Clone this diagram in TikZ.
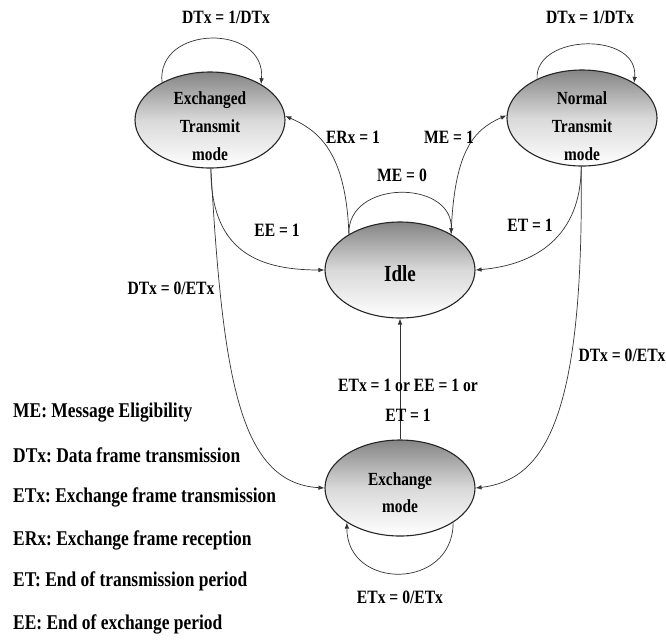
\documentclass[tikz,border=0pt]{standalone}
\usepackage{fontspec}
\setmainfont{Liberation Serif}[FakeStretch=0.83]
\usetikzlibrary{shapes.geometric,arrows.meta}
\frenchspacing
\begin{document}
\begin{tikzpicture}[x=1pt,y=-1pt,
  state/.style={ellipse,draw=black!85,line width=1.1pt,minimum width=150pt,minimum height=96pt,inner sep=0pt,top color=black!48,bottom color=white,middle color=black!15},
  stxt/.style={align=center,inner sep=0pt,font=\fontsize{18.5}{28}\selectfont\bfseries},
  lbl/.style={font=\fontsize{18.8}{30}\selectfont\bfseries,inner sep=0pt,align=center},
  leg/.style={font=\fontsize{21}{24}\selectfont\bfseries,anchor=west,inner sep=0pt},
  conn/.style={draw=black!80,line width=0.7pt,-{Latex[length=6pt,width=4.5pt]}}
]
\fill[white] (0,0) rectangle (666,641);
\useasboundingbox (0,0) rectangle (666,641);

% states
\node[state] (A) at (210,120) {};
\node[state] (B) at (582,118) {};
\node[state] (I) at (400,270) {};
\node[state] (X) at (400,488) {};

\node[stxt] (At) at ([yshift=-6pt]A.center) {Exchanged\\Transmit\\mode};
\node[stxt] (Bt) at ([yshift=-8pt]B.center) {Normal\\Transmit\\mode};
\node[stxt,font=\fontsize{23}{28}\selectfont\bfseries] (It) at ([yshift=-4pt]I.center) {Idle};
\node[stxt,font=\fontsize{18.5}{27}\selectfont\bfseries] (Xt) at ([yshift=-5pt]X.center) {Exchange\\mode};

% self loops
\draw[conn] (A.142) .. controls +(-6,-58) and +(5,-61) .. (A.35);
\draw[conn] (B.139) .. controls +(-3,-45) and +(5,-52) .. (B.34);
\draw[conn] (I.145) .. controls +(-2,-55) and +(2,-55) .. (I.35);
\draw[conn] (X.327) .. controls +(0,68) and +(0,68) .. (X.213);

% transitions
\draw[conn] (I.145) .. controls +(-3,-80) and +(35,15) .. (A.3);
\draw[conn] (I.35) .. controls +(3,-80) and +(-35,15) .. (B.178);
\draw[conn] (A.271) .. controls +(0,80) and +(-70,0) .. (I.180);
\draw[conn] (B.269) .. controls +(0,70) and +(60,-5) .. (I.0);
\draw[conn] (A.271) .. controls +(12,210) and +(-85,-5) .. (X.180);
\draw[conn] (B.269) .. controls +(3,250) and +(70,-8) .. (X.0);
\draw[conn] (X.90) -- (I.270);

% labels
\node[lbl] (l1) at (226,17) {DTx = 1/DTx};
\node[lbl] (l2) at (590,17) {DTx = 1/DTx};
\node[lbl] (l3) at (353,137) {ERx = 1};
\node[lbl] (l4) at (449,137) {ME = 1};
\node[lbl] (l5) at (402,175) {ME = 0};
\node[lbl] (l6) at (277,230) {EE = 1};
\node[lbl] (l7) at (530,225) {ET = 1};
\node[lbl] (l8) at (171,288) {DTx = 0/ETx};
\node[lbl] (l9) at (622,355) {DTx = 0/ETx};
\node[lbl] (l10) at (408,400) {ETx = 1 or EE = 1 or\\ET = 1};
\node[lbl] (l11) at (400,597) {ETx = 0/ETx};

% legend
\node[leg] (g1) at (13,413) {ME: Message Eligibility};
\node[leg] (g2) at (13,455) {DTx: Data frame transmission};
\node[leg] (g3) at (13,497) {ETx: Exchange frame transmission};
\node[leg] (g4) at (13,540) {ERx: Exchange frame reception};
\node[leg] (g5) at (13,581) {ET: End of transmission period};
\node[leg] (g6) at (13,624) {EE: End of exchange period};
\end{tikzpicture}
\end{document}
